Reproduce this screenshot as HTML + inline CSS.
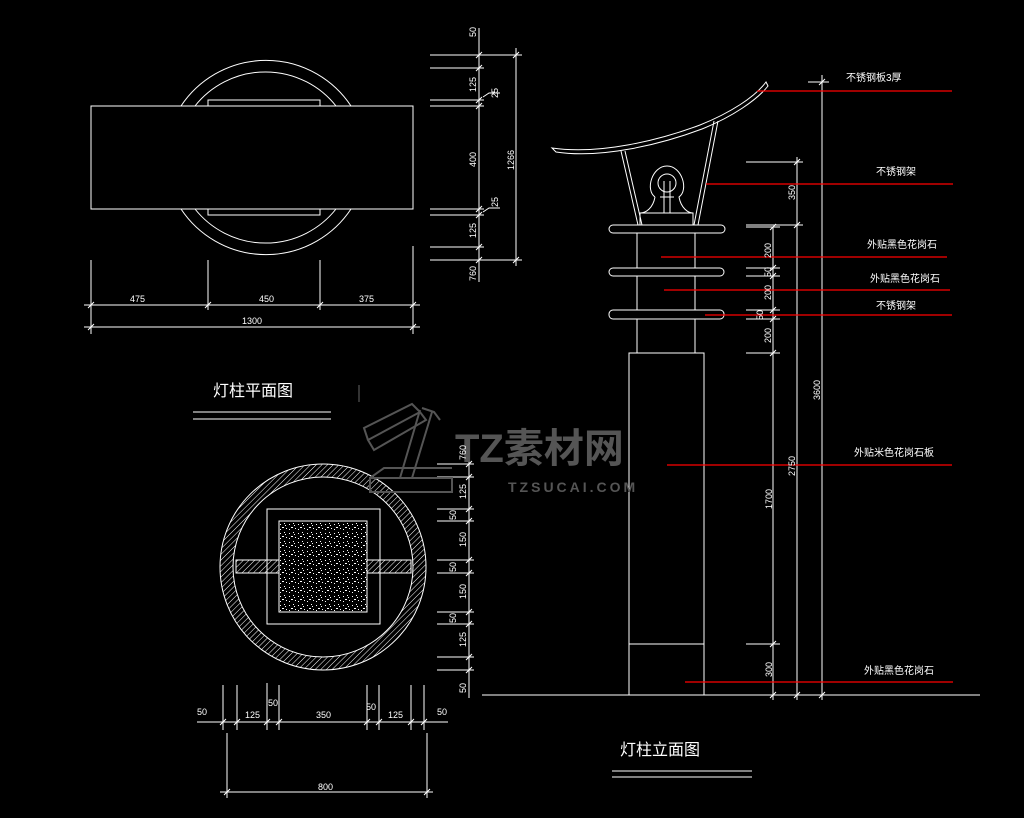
<!DOCTYPE html>
<html><head><meta charset="utf-8"><style>
html,body{margin:0;padding:0;background:#000;width:1024px;height:818px;overflow:hidden}
svg{display:block}
.n{font-family:"Liberation Sans Narrow","Liberation Sans",sans-serif;font-size:9px;fill:#fff}
.c{font-family:"Liberation Sans","Noto Sans CJK SC",sans-serif;font-size:10px;fill:#fff}
.t{font-family:"Liberation Sans","Noto Sans CJK SC",sans-serif;font-size:16px;fill:#fff}
</style></head><body>
<svg width="1024" height="818" viewBox="0 0 1024 818" xmlns="http://www.w3.org/2000/svg">
<defs>
<pattern id="h" width="4" height="4" patternUnits="userSpaceOnUse" patternTransform="rotate(45)"><line x1="0" y1="0" x2="0" y2="4" stroke="#fff" stroke-width="1"/></pattern>
<pattern id="d" width="9" height="9" patternUnits="userSpaceOnUse"><rect x="1" y="2" width="1" height="1" fill="#fff"/><rect x="5" y="1" width="1" height="1" fill="#fff"/><rect x="3" y="5" width="2" height="1" fill="#fff"/><rect x="7" y="6" width="1" height="1" fill="#fff"/><rect x="1" y="7" width="1" height="1" fill="#fff"/><rect x="6" y="3" width="1" height="1" fill="#fff"/></pattern>
</defs>
<g stroke="#fff" fill="none" stroke-width="1">
<!-- PLAN TOP -->
<path d="M181,106 A102,102 0 0 1 351,106 M181,209 A102,102 0 0 0 351,209"/>
<path d="M195,106 A90,90 0 0 1 336,106 M195,209 A90,90 0 0 0 336,209"/>
<rect x="208" y="100" width="112" height="6"/><rect x="208" y="209" width="112" height="6"/>
<rect x="91" y="106" width="322" height="103" fill="#000"/>
<line x1="479" y1="28" x2="479" y2="282"/>
<path d="M430,55H484M430,68H484M430,100H484M430,106H484M430,209H484M430,215H484M430,247H484M430,260H484"/>
<line x1="516" y1="48" x2="516" y2="266"/><path d="M482,55H522M482,260H522"/>
<path d="M483,97L489,93H500M483,212L489,208H500"/>
<line x1="91" y1="260" x2="91" y2="334"/><line x1="208" y1="260" x2="208" y2="310"/><line x1="320" y1="260" x2="320" y2="310"/><line x1="413" y1="246" x2="413" y2="334"/>
<line x1="84" y1="305" x2="420" y2="305"/><line x1="84" y1="327" x2="420" y2="327"/>
<path d="M88,308L94,302M205,308L211,302M317,308L323,302M410,308L416,302M88,330L94,324M410,330L416,324"/>
<path d="M476,58L482,52M476,71L482,65M476,103L482,97M476,109L482,103M476,212L482,206M476,218L482,212M476,250L482,244M476,263L482,257M513,58L519,52M513,263L519,257"/>
<path d="M193,412H331M193,419H331"/>
<line x1="359" y1="385" x2="359" y2="402" stroke="#666"/>
<!-- SECTION -->
<circle cx="323" cy="567" r="103" fill="url(#h)"/>
<circle cx="323" cy="567" r="90" fill="#000"/>
<rect x="267" y="509" width="113" height="115"/>
<rect x="236" y="560" width="43" height="13" fill="url(#h)"/><rect x="367" y="560" width="44" height="13" fill="url(#h)"/>
<rect x="279" y="521" width="88" height="91" fill="url(#d)"/>
<line x1="469" y1="445" x2="469" y2="698"/>
<path d="M437,464H474M437,477H474M437,509H474M437,521H474M437,560H474M437,573H474M437,612H474M437,624H474M437,657H474M437,670H474"/>
<path d="M466,467L472,461M466,480L472,474M466,512L472,506M466,524L472,518M466,563L472,557M466,576L472,570M466,615L472,609M466,627L472,621M466,660L472,654M466,673L472,667"/>
<line x1="197" y1="722" x2="448" y2="722"/>
<path d="M223,685V730M237,685V730M267,683V730M279,685V730M367,685V730M379,685V730M411,685V730M424,685V730"/>
<path d="M220,725L226,719M234,725L240,719M264,725L270,719M276,725L282,719M364,725L370,719M376,725L382,719M408,725L414,719M421,725L427,719"/>
<path d="M227,733V798M427,733V798M220,792H433M224,795L230,789M424,795L430,789"/>
<!-- ELEVATION -->
<path d="M552,148 C600,155 660,140 700,125 C730,113 755,97 766,82 L768,86 C757,100 732,117 702,129 C662,144 602,159 556,152 Z"/>
<path d="M621,151L638,225M625,151L642,225M714,121L694,225M718,121L698,225"/>
<path d="M655,197 C645,190 652,166 667,166 C682,166 689,190 679,197 C681,208 688,213 693,213 M655,197 C653,208 646,213 640,213"/>
<circle cx="667" cy="183" r="9"/><path d="M664,181V213M670,181V213M660,197H674"/>
<rect x="640" y="213" width="53" height="12"/>
<rect x="609" y="225" width="116" height="8" rx="4"/>
<rect x="609" y="268" width="115" height="8" rx="4"/>
<rect x="609" y="310" width="115" height="9" rx="4"/>
<path d="M637,233V268M695,233V268M637,276V310M695,276V310M637,319V353M695,319V353"/>
<rect x="629" y="353" width="75" height="342"/><line x1="629" y1="644" x2="704" y2="644"/>
<line x1="482" y1="695" x2="980" y2="695"/>
<line x1="822" y1="75" x2="822" y2="700"/><line x1="797" y1="157" x2="797" y2="700"/><line x1="773" y1="227" x2="773" y2="700"/>
<path d="M808,82H829M746,162H803M746,225H803M746,227H780M746,268H780M746,276H780M746,310H780M746,319H780M746,353H780M746,644H780"/>
<path d="M819,85L825,79M794,165L800,159M794,228L800,222M770,230L776,224M770,271L776,265M770,279L776,273M770,313L776,307M770,322L776,316M770,356L776,350M770,647L776,641M770,698L776,692M794,698L800,692M819,698L825,692"/>
<path d="M612,771H752M612,777H752"/>
</g>
<g stroke="#f00" stroke-width="1.2">
<path d="M757,91H952M706,184H953M661,257H947M664,290H950M705,315H952M667,465H952M685,682H953"/>
</g>
<!-- watermark -->
<g stroke="#555" stroke-width="2" fill="none">
<path d="M368,440L420,412L426,420L374,450Z M368,440L364,428L412,404L420,412"/>
<path d="M420,410L400,478M432,412L412,478M422,408L434,412L440,420"/>
<path d="M370,478H452V492H370Z M370,478L384,468H452"/>
</g>
<text x="455" y="462" font-family="Liberation Sans,Noto Sans CJK SC,sans-serif" font-size="40" font-weight="bold" fill="#555">TZ素材网</text>
<text x="508" y="492" font-family="Liberation Sans,sans-serif" font-size="14" font-weight="bold" fill="#555" letter-spacing="3">TZSUCAI.COM</text>
<!-- labels -->
<g class="n">
<text x="130" y="302" transform="translate(0,0)">475</text><text x="259" y="302">450</text><text x="359" y="302">375</text><text x="242" y="324">1300</text>
<text transform="translate(476,37) rotate(-90)">50</text><text transform="translate(476,92) rotate(-90)">125</text>
<text transform="translate(498,98) rotate(-90)">25</text><text transform="translate(476,167) rotate(-90)">400</text>
<text transform="translate(514,170) rotate(-90)">1266</text><text transform="translate(498,207) rotate(-90)">25</text>
<text transform="translate(476,238) rotate(-90)">125</text><text transform="translate(476,281) rotate(-90)">760</text>
<text transform="translate(466,460) rotate(-90)">760</text><text transform="translate(466,499) rotate(-90)">125</text>
<text transform="translate(456,520) rotate(-90)">50</text><text transform="translate(466,547) rotate(-90)">150</text>
<text transform="translate(456,572) rotate(-90)">50</text><text transform="translate(466,599) rotate(-90)">150</text>
<text transform="translate(456,623) rotate(-90)">50</text><text transform="translate(466,647) rotate(-90)">125</text>
<text transform="translate(466,693) rotate(-90)">50</text>
<text x="197" y="715">50</text><text x="245" y="718">125</text><text x="268" y="706">50</text><text x="316" y="718">350</text><text x="366" y="710">50</text><text x="388" y="718">125</text><text x="437" y="715">50</text>
<text x="318" y="790">800</text>
<text transform="translate(795,200) rotate(-90)">350</text><text transform="translate(771,258) rotate(-90)">200</text>
<text transform="translate(771,277) rotate(-90)">50</text><text transform="translate(771,300) rotate(-90)">200</text>
<text transform="translate(763,320) rotate(-90)">50</text><text transform="translate(771,343) rotate(-90)">200</text>
<text transform="translate(820,400) rotate(-90)">3600</text><text transform="translate(795,476) rotate(-90)">2750</text>
<text transform="translate(772,509) rotate(-90)">1700</text><text transform="translate(772,677) rotate(-90)">300</text>
</g>
<g class="c">
<text x="846" y="81">不锈钢板3厚</text><text x="876" y="175">不锈钢架</text>
<text x="867" y="248">外贴黑色花岗石</text><text x="870" y="282">外贴黑色花岗石</text>
<text x="876" y="309">不锈钢架</text><text x="854" y="456">外贴米色花岗石板</text>
<text x="864" y="674">外贴黑色花岗石</text>
</g>
<text class="t" x="213" y="396">灯柱平面图</text>
<text class="t" x="620" y="755">灯柱立面图</text>
</svg>
</body></html>
